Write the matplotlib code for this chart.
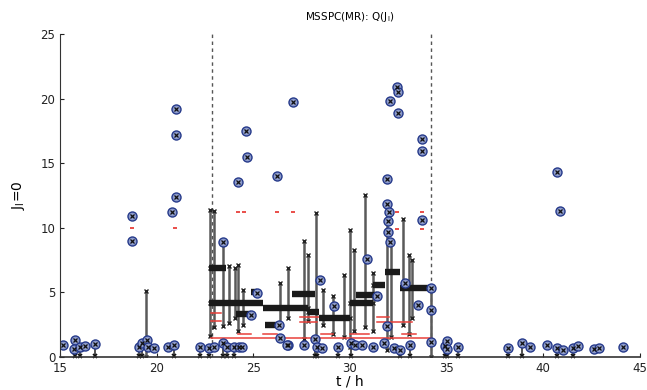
import numpy as np
import matplotlib.pyplot as plt

# window (dashed lines)
win_t = [22.85, 34.2]

# circled outlier points (t, Q)
out_t = [18.7, 18.7, 20.8, 21.0, 21.0, 21.0, 23.45, 24.2, 24.6, 24.65, 26.2, 27.05,
         31.9, 32.05, 32.45, 32.5, 32.5, 33.74, 33.74, 40.7, 40.85,
         30.9, 28.47, 29.16, 31.4, 32.87, 33.5, 34.2, 34.2, 34.2, 31.9, 32.0, 31.95,
         31.95, 32.06, 33.74, 25.2, 26.3, 24.85, 26.4, 26.8, 31.9,
         15.17, 15.78, 15.69, 16.04, 16.26, 16.78,
         19.06, 19.23, 19.5, 19.57, 19.83, 20.6, 20.9,
         22.25, 22.68, 22.94, 23.43, 23.64, 23.98, 24.24, 24.41,
         26.75, 27.6, 28.2, 28.3, 28.55, 29.4, 30.03, 30.28, 30.63, 31.2, 31.75,
         32.27, 32.6, 33.1,
         34.9, 35.04, 35.0, 35.6, 38.18, 38.9, 39.3, 40.2, 40.7, 41.0, 41.56,
         41.8, 42.6, 42.9, 44.13]
out_q = [10.9, 9.0, 11.2, 19.2, 17.2, 12.4, 8.9, 13.5, 17.5, 15.5, 14.0, 19.7,
         13.75, 19.8, 20.9, 20.5, 18.9, 16.9, 15.9, 14.3, 11.3,
         7.6, 5.96, 3.9, 4.7, 5.7, 4.0, 5.3, 3.6, 1.15, 11.8, 11.25, 10.5,
         9.7, 8.9, 10.6, 4.93, 2.48, 3.25, 1.47, 0.93, 2.35,
         0.88, 1.3, 0.62, 0.8, 0.85, 1.0,
         0.8, 1.1, 1.3, 0.8, 0.67, 0.8, 0.93,
         0.8, 0.7, 0.8, 1.1, 0.8, 0.8, 0.8, 0.8,
         0.93, 0.93, 1.37, 0.8, 0.67, 0.8, 1.06, 0.93, 0.93, 0.8, 1.06,
         0.67, 0.55, 0.93,
         0.85, 1.26, 0.62, 0.75, 0.72, 1.06, 0.75, 0.88, 0.72, 0.54, 0.72,
         0.85, 0.6, 0.72, 0.8]

# vertical stems (t, low, high)
stem_t = [19.45, 22.75, 22.95, 23.45, 23.75, 24.05, 24.2, 24.45, 26.4, 26.8,
          27.6, 27.8, 28.25, 28.6, 29.1, 29.7, 30.0, 30.2, 30.75, 31.2, 31.9,
          32.1, 32.75, 33.05, 33.2, 34.2]
stem_lo = [0.0, 1.6, 2.3, 2.4, 2.6, 3.0, 2.0, 2.5, 2.4, 3.0,
           1.4, 2.8, 1.4, 2.5, 1.8, 1.5, 0.8, 2.0, 2.3, 2.0, 0.5,
           1.5, 2.5, 1.8, 3.0, 0.0]
stem_hi = [5.1, 11.4, 11.3, 8.9, 7.0, 6.9, 7.1, 5.2, 5.7, 6.9,
           9.0, 7.9, 11.1, 5.2, 4.7, 6.3, 9.8, 8.3, 12.5, 6.5, 11.8,
           9.0, 10.7, 7.9, 7.5, 5.3]

# short stems from zero up to low points
base_t = [15.78, 16.04, 16.78, 19.06, 19.23, 20.9, 22.25, 22.68, 23.43, 23.64,
          23.98, 28.2, 28.3, 29.4, 30.03, 32.6, 33.1, 34.9, 35.04, 35.6,
          38.18, 38.9, 40.7, 41.56]
base_q = [1.3, 0.8, 1.0, 0.8, 1.1, 0.93, 0.8, 0.7, 1.1, 0.8,
          0.8, 1.37, 0.8, 0.8, 1.06, 0.55, 0.93, 0.85, 1.26, 0.75,
          0.72, 1.06, 0.72, 0.72]

# thick step levels (start, end, level)
step_t0 = [22.7, 22.7, 24.1, 24.9, 25.5, 25.6, 27.0, 27.8, 28.4, 30.0, 30.3, 31.2, 31.8, 32.6]
step_t1 = [23.6, 25.5, 24.9, 25.2, 27.8, 26.2, 28.2, 28.4, 30.0, 31.2, 31.4, 31.8, 32.6, 34.2]
step_q = [6.9, 4.15, 3.3, 5.0, 3.75, 2.5, 4.85, 3.5, 3.0, 4.2, 4.8, 5.6, 6.6, 5.3]

# red limit segments
lim_t0 = [22.8, 22.8, 22.8, 24.2, 25.5, 27.4, 27.4, 28.5, 30.0, 31.4, 31.4, 32.7]
lim_t1 = [34.2, 23.3, 23.3, 24.9, 26.2, 28.5, 28.3, 29.1, 31.0, 32.0, 33.2, 33.4]
lim_q = [1.45, 3.4, 2.8, 1.8, 1.8, 3.1, 2.7, 1.8, 1.8, 3.1, 2.7, 1.8]

# red limit ticks
dot_t = [18.7, 20.95, 20.9, 24.2, 24.5, 26.2, 27.05, 32.45, 33.74, 32.45, 33.74]
dot_q = [10.0, 10.0, 11.2, 11.2, 11.2, 11.2, 11.2, 11.2, 11.2, 9.9, 9.9]

fig = plt.figure(figsize=(6.47, 3.9), dpi=100)
ax = fig.add_axes([0.093, 0.085, 0.896, 0.828])

for t in win_t:
    ax.plot([t, t], [0, 25], color='#555555', lw=1, ls=(0, (2.5, 2.5)))

for t, lo, hi in zip(stem_t, stem_lo, stem_hi):
    ax.plot([t, t], [lo, hi], color='#5a5a5a', lw=1.8)
    ax.plot([t, t], [lo, hi], 'x', color='#222222', ms=3.5, mew=1)
    # x marks where the stem crosses a level
    for a, b, q in zip(step_t0, step_t1, step_q):
        if a <= t <= b and lo < q < hi:
            ax.plot(t, q, 'x', color='#222222', ms=3.5, mew=1)

for t, q in zip(base_t, base_q):
    ax.plot([t, t], [0, q], color='#333333', lw=1.2)
    ax.plot(t, 0.1, 'x', color='#111111', ms=3.5, mew=1.2, clip_on=False)

for a, b, q in zip(lim_t0, lim_t1, lim_q):
    ax.plot([a, b], [q, q], color='#e8403a', lw=1.1)

for a, b, q in zip(step_t0, step_t1, step_q):
    ax.plot([a, b], [q, q], color='#1a1a1a', lw=4.6, solid_capstyle='butt')

ax.plot(dot_t, dot_q, '_', color='#e8403a', ms=3, mew=1.3, ls='none')

ax.plot(out_t, out_q, 'o', ms=6.5, mfc='#8e9ccb', mec='#25398a', mew=1, ls='none')
ax.plot(out_t, out_q, 'x', ms=2.5, color='#111111', mew=0.9, ls='none')

ax.set_xlim(15, 45)
ax.set_ylim(0, 25)
ax.set_xticks(range(15, 46, 5))
ax.set_yticks(range(0, 26, 5))
ax.spines['top'].set_visible(False)
ax.spines['right'].set_visible(False)
ax.spines['left'].set_color('#333333')
ax.spines['bottom'].set_color('#333333')
ax.spines['bottom'].set_linewidth(1.2)
ax.tick_params(direction='in', length=3, labelsize=8.5, colors='#222222')
ax.set_xlabel('t / h', fontsize=10, labelpad=0)
ax.set_ylabel(r'$\mathregular{J_l}$=0', fontsize=10, labelpad=10)
ax.set_title(r'MSSPC(MR): Q($\mathregular{J_l}$)', fontsize=7.5, pad=10)

fig.savefig('out.png', dpi=100)
